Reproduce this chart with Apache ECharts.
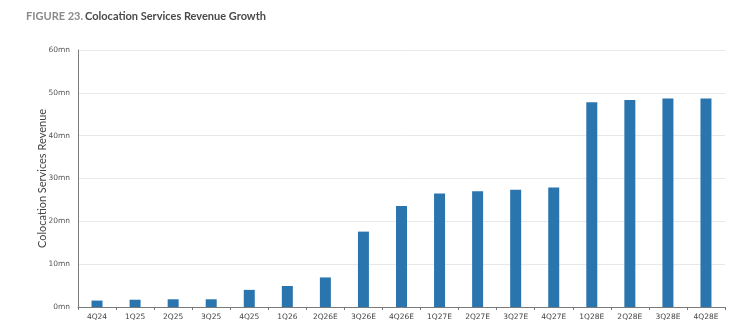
<!DOCTYPE html>
<html>
<head>
<meta charset="utf-8">
<script src="https://cdn.jsdelivr.net/npm/echarts@6/dist/echarts.min.js"></script>
<style>
  html, body { margin: 0; padding: 0; background: #fff; }
  #main { width: 755px; height: 331px; }
</style>
</head>
<body>
<div id="main"></div>
<script>
// quarters on the x axis
var quarters = ['4Q24', '1Q25', '2Q25', '3Q25', '4Q25', '1Q26', '2Q26E', '3Q26E', '4Q26E',
    '1Q27E', '2Q27E', '3Q27E', '4Q27E', '1Q28E', '2Q28E', '3Q28E', '4Q28E'];

// revenue, in mn
var revenue = [1.5, 1.7, 1.8, 1.8, 4.0, 4.9, 6.9, 17.6, 23.6,
    26.5, 27.0, 27.4, 27.9, 47.8, 48.3, 48.7, 48.7];

var yMax = 60;
var yStep = 10;

var myChart = echarts.init(document.getElementById('main'));

var option = {
    animation: false,
    title: {
        text: '{a|FIGURE 23.}{b|Colocation Services Revenue Growth}',
        left: 21,
        top: 6,
        textStyle: {
            rich: {
                a: { fontFamily: 'Lato', fontSize: 11, fontWeight: 'bold', color: '#8a8a8a', padding: [0, 2, 0, 0] },
                b: { fontFamily: 'Lato', fontSize: 11, fontWeight: 'bold', color: '#4a4a4a' }
            }
        }
    },
    grid: {
        left: 78,
        right: 30,
        top: 50,
        bottom: 24
    },
    xAxis: {
        type: 'category',
        data: quarters,
        axisLine: { lineStyle: { color: '#7a7a7a' } },
        axisTick: { show: true, alignWithLabel: false, length: 3, lineStyle: { color: '#7a7a7a' } },
        axisLabel: { fontFamily: 'DejaVu Sans', fontSize: 7.5, color: '#444', margin: 6, interval: 0 }
    },
    yAxis: {
        type: 'value',
        min: 0,
        max: yMax,
        interval: yStep,
        name: 'Colocation Services Revenue',
        nameLocation: 'middle',
        nameGap: 30,
        nameMoveOverlap: false,
        nameTextStyle: { fontFamily: 'Lato', fontSize: 11, color: '#444' },
        axisLine: { show: true, lineStyle: { color: '#7a7a7a' } },
        axisTick: { show: false },
        axisLabel: {
            fontFamily: 'DejaVu Sans', fontSize: 7.5, color: '#555', margin: 8,
            formatter: function (v) { return v + 'mn'; }
        },
        splitLine: { lineStyle: { color: '#e8e8e8' } }
    },
    series: [
        {
            type: 'bar',
            data: revenue,
            barWidth: 11,
            itemStyle: { color: '#2b75ae' }
        }
    ]
};

myChart.setOption(option);
</script>
</body>
</html>
